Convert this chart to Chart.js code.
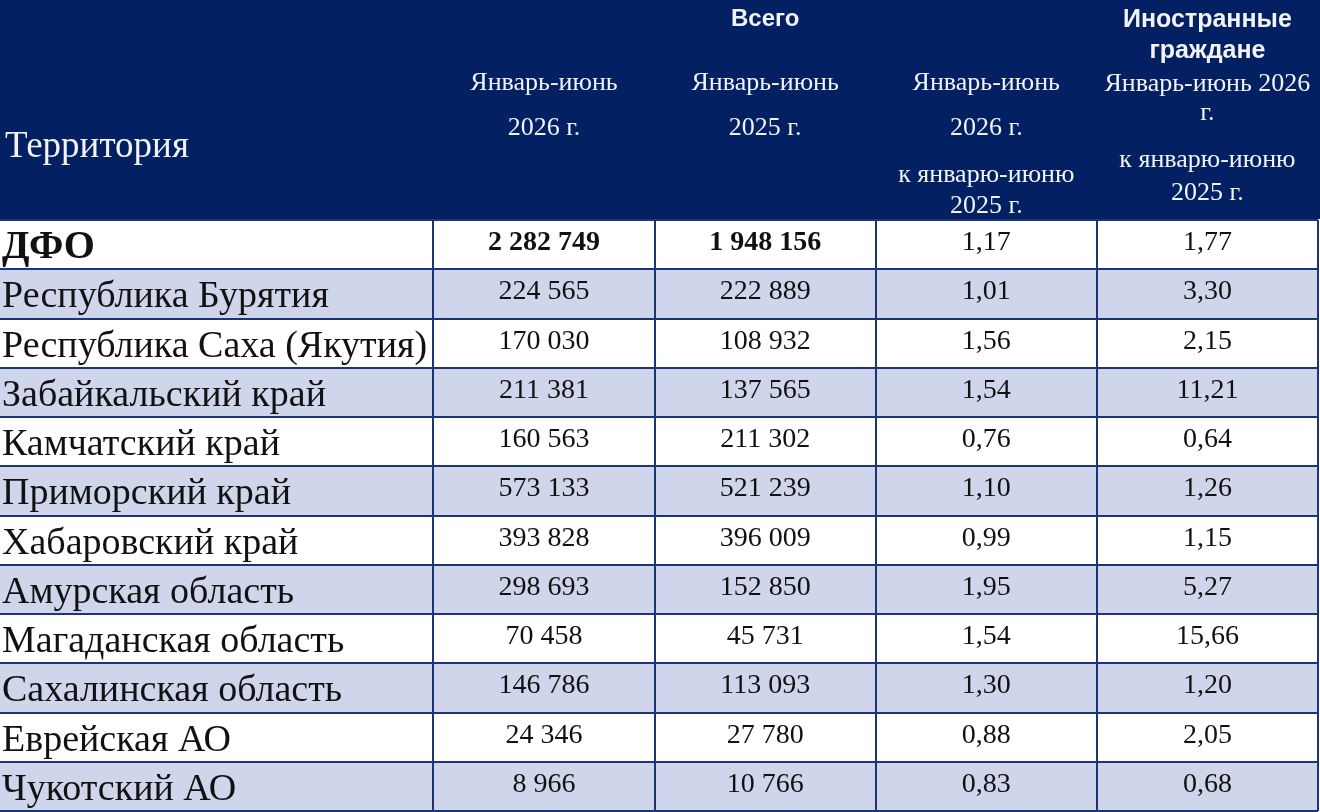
<!DOCTYPE html>
<html lang="ru">
<head>
<meta charset="utf-8">
<title>ДФО — январь-июнь</title>
<script src="https://cdn.jsdelivr.net/npm/chart.js@4.4.1/dist/chart.umd.min.js"></script>
<style>
  html, body { margin: 0; padding: 0; background: #ffffff; overflow: hidden; }
  #wrap { width: 1320px; height: 812px; position: relative; }
</style>
</head>
<body>
<div id="wrap"><canvas id="c"></canvas></div>
<script>
// ---------- data ----------
const territories = [
  'ДФО',
  'Республика Бурятия',
  'Республика Саха (Якутия)',
  'Забайкальский край',
  'Камчатский край',
  'Приморский край',
  'Хабаровский край',
  'Амурская область',
  'Магаданская область',
  'Сахалинская область',
  'Еврейская АО',
  'Чукотский АО'
];
const total2026 = [2282749, 224565, 170030, 211381, 160563, 573133, 393828, 298693, 70458, 146786, 24346, 8966];
const total2025 = [1948156, 222889, 108932, 137565, 211302, 521239, 396009, 152850, 45731, 113093, 27780, 10766];
const ratioTotal = [1.17, 1.01, 1.56, 1.54, 0.76, 1.10, 0.99, 1.95, 1.54, 1.30, 0.88, 0.83];
const ratioForeign = [1.77, 3.30, 2.15, 11.21, 0.64, 1.26, 1.15, 5.27, 15.66, 1.20, 2.05, 0.68];

const headerTerritory = 'Территория';
const groupTotal = ['Всего'];
const groupForeign = ['Иностранные', 'граждане'];
const headCol2 = ['Январь-июнь', '2026 г.'];
const headCol3 = ['Январь-июнь', '2025 г.'];
const headCol4 = ['Январь-июнь', '2026 г.', 'к январю-июню', '2025 г.'];
const headCol5 = ['Январь-июнь 2026', 'г.', 'к январю-июню', '2025 г.'];

// ---------- layout / style constants ----------
const COL_EDGES = [0, 1.96, 2.96, 3.96, 4.96, 5.96];   // column boundaries in x-scale units
const NAVY = '#032062';
const LINE = '#1c3577';
const STRIPE = '#cfd5ea';
const SERIF = '"Liberation Serif", "Times New Roman", serif';
const SANS = '"Liberation Sans", Arial, sans-serif';

function fmtInt(n) { return String(n).replace(/\B(?=(\d{3})+(?!\d))/g, ' '); }
function fmtRatio(v) { return v.toFixed(2).replace('.', ','); }

const tablePlugin = {
  id: 'tableText',
  afterDraw(chart) {
    const ctx = chart.ctx;
    const xs = chart.scales.x, ys = chart.scales.y;
    const area = chart.chartArea;
    const colCenter = i => xs.getPixelForValue((COL_EDGES[i] + COL_EDGES[i + 1]) / 2);
    ctx.save();

    // header block
    ctx.fillStyle = NAVY;
    ctx.fillRect(0, 0, chart.width, area.top - 1);
    ctx.fillStyle = '#f2f3f7';
    ctx.textBaseline = 'alphabetic';

    ctx.textAlign = 'left';
    ctx.font = '37px ' + SERIF;
    ctx.fillText(headerTerritory, area.left + 5, 157);

    ctx.textAlign = 'center';
    ctx.font = 'bold 24px ' + SANS;
    ctx.fillText(groupTotal[0], colCenter(2), 26);
    ctx.font = 'bold 25px ' + SANS;
    ctx.fillText(groupForeign[0], colCenter(4), 27);
    ctx.fillText(groupForeign[1], colCenter(4), 58);

    ctx.font = '26px ' + SERIF;
    const base23 = [90, 135];
    headCol2.forEach((t, k) => ctx.fillText(t, colCenter(1), base23[k]));
    headCol3.forEach((t, k) => ctx.fillText(t, colCenter(2), base23[k]));
    const base4 = [90, 135, 182, 213];
    headCol4.forEach((t, k) => ctx.fillText(t, colCenter(3), base4[k]));
    const base5 = [91, 120, 167, 200];
    headCol5.forEach((t, k) => ctx.fillText(t, colCenter(4), base5[k]));

    // body cells
    const band = ys.height / territories.length;
    ctx.fillStyle = '#111111';
    territories.forEach((name, i) => {
      const top = ys.getPixelForValue(i) - band / 2;
      const bold = i === 0;
      ctx.textAlign = 'left';
      ctx.font = (bold ? 'bold 40px ' : '38px ') + SERIF;
      ctx.fillText(name, area.left + 2, top + 38);

      ctx.textAlign = 'center';
      ctx.font = (bold ? 'bold 28px ' : '28px ') + SERIF;
      ctx.fillText(fmtInt(total2026[i]), colCenter(1), top + 30);
      ctx.fillText(fmtInt(total2025[i]), colCenter(2), top + 30);
      ctx.font = '28px ' + SERIF;
      ctx.fillText(fmtRatio(ratioTotal[i]), colCenter(3), top + 30);
      ctx.fillText(fmtRatio(ratioForeign[i]), colCenter(4), top + 30);
    });
    ctx.restore();
  }
};

function build() {
  const xMax = COL_EDGES[COL_EDGES.length - 1];
  new Chart(document.getElementById('c'), {
    type: 'bar',
    data: {
      labels: territories,
      datasets: [{
        label: 'Территория',
        data: territories.map(() => [COL_EDGES[0], xMax]),
        backgroundColor: territories.map((_, i) => (i % 2 === 1 ? STRIPE : '#ffffff')),
        borderWidth: 0,
        barPercentage: 1,
        categoryPercentage: 1
      }]
    },
    options: {
      indexAxis: 'y',
      responsive: true,
      maintainAspectRatio: false,
      animation: false,
      devicePixelRatio: 1,
      layout: { padding: { top: 220, left: 0, right: 2, bottom: 1 } },
      plugins: { legend: { display: false }, tooltip: { enabled: false }, title: { display: false } },
      scales: {
        x: {
          type: 'linear',
          min: COL_EDGES[0],
          max: xMax,
          border: { display: false },
          ticks: { display: false },
          afterBuildTicks: s => { s.ticks = COL_EDGES.slice(1).map(v => ({ value: v })); },
          grid: { color: LINE, lineWidth: 2, drawTicks: false, z: 1 }
        },
        y: {
          type: 'category',
          offset: true,
          border: { display: false },
          ticks: { display: false },
          grid: { color: LINE, lineWidth: 2, drawTicks: false, offset: true, z: 1 }
        }
      }
    },
    plugins: [tablePlugin]
  });
}

const fontsReady = document.fonts && document.fonts.load
  ? Promise.all([
      document.fonts.load('38px "Liberation Serif"'),
      document.fonts.load('bold 38px "Liberation Serif"'),
      document.fonts.load('bold 24px "Liberation Sans"')
    ]).catch(() => {})
  : Promise.resolve();
fontsReady.then(build);
</script>
</body>
</html>
